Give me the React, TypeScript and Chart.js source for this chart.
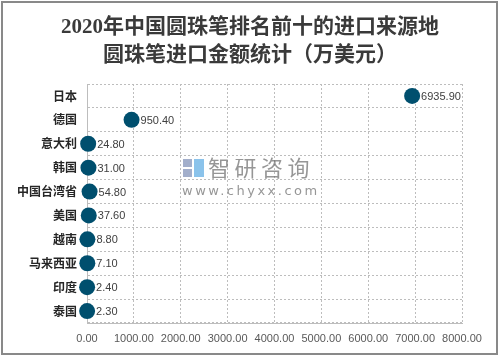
import React, { useEffect, useRef } from "react";
import { Chart, registerables } from "chart.js";

Chart.register(...registerables);

const categories = ["日本", "德国", "意大利", "韩国", "中国台湾省", "美国", "越南", "马来西亚", "印度", "泰国"];
const values = [6935.9, 950.4, 24.8, 31.0, 54.8, 37.6, 8.8, 7.1, 2.4, 2.3];
const titleLines = ["2020年中国圆珠笔排名前十的进口来源地", "圆珠笔进口金额统计（万美元）"];
const xMin = 0;
const xMax = 8000;
const xStep = 1000;

const CJK = "'Noto Sans CJK SC', sans-serif";

const overlay = {
  id: "overlay",
  beforeDraw(chart: any) {
    const ctx = chart.ctx;
    ctx.save();
    ctx.fillStyle = "#ffffff";
    ctx.fillRect(0, 0, chart.width, chart.height);
    ctx.restore();
  },
  beforeDatasetsDraw(chart: any) {
    const ctx = chart.ctx;
    ctx.save();
    ctx.fillStyle = "rgba(140,155,190,0.8)";
    ctx.fillRect(183, 159, 9, 8);
    ctx.fillRect(183, 169, 9, 8);
    ctx.fillStyle = "rgba(110,180,230,0.8)";
    ctx.fillRect(194, 159, 10, 18);
    ctx.fillStyle = "rgba(105,105,105,0.7)";
    ctx.font = `22px ${CJK}`;
    ctx.textBaseline = "middle";
    ctx.textAlign = "left";
    (ctx as any).letterSpacing = "4.5px";
    ctx.fillText("智研咨询", 208, 168);
    ctx.font = "13px 'DejaVu Sans', sans-serif";
    (ctx as any).letterSpacing = "2.5px";
    ctx.fillText("www.chyxx.com", 182, 192);
    ctx.restore();
  },
  afterDatasetsDraw(chart: any) {
    const ctx = chart.ctx;
    const meta = chart.getDatasetMeta(0);
    ctx.save();
    ctx.font = `11px 'Liberation Sans', ${CJK}`;
    ctx.fillStyle = "#404040";
    ctx.textAlign = "left";
    ctx.textBaseline = "middle";
    meta.data.forEach((pt: any, i: number) => {
      ctx.fillText(values[i].toFixed(2), pt.x + 9, pt.y + 1);
    });
    ctx.restore();
  },
  afterDraw(chart: any) {
    const ctx = chart.ctx;
    ctx.save();
    ctx.fillStyle = "#3a3a3a";
    ctx.textAlign = "center";
    ctx.textBaseline = "middle";
    ctx.font = `bold 21px 'Liberation Serif', ${CJK}`;
    ctx.fillText(titleLines[0], 250, 28);
    ctx.fillText(titleLines[1], 250, 56);
    ctx.strokeStyle = "#898989";
    ctx.lineWidth = 2;
    ctx.strokeRect(2, 2, 495, 352);
    ctx.restore();
  },
};

export default function App() {
  const ref = useRef<HTMLCanvasElement>(null);
  useEffect(() => {
    const data = categories.map((c, i) => ({ x: values[i], y: c }));
    const chart = new Chart(ref.current as HTMLCanvasElement, {
      type: "scatter",
      data: {
        labels: categories,
        datasets: [
          {
            data: data as any,
            backgroundColor: "#004f6e",
            borderColor: "#004f6e",
            pointRadius: 8,
            pointHoverRadius: 8,
            borderWidth: 0,
            clip: false,
          },
        ],
      },
      options: {
        animation: false,
        responsive: false,
        events: [],
        layout: { padding: { top: 84, right: 37, bottom: 0, left: 0 } },
        plugins: { legend: { display: false }, tooltip: { enabled: false }, title: { display: false } },
        scales: {
          x: {
            type: "linear",
            min: xMin,
            max: xMax,
            ticks: {
              stepSize: xStep,
              padding: 9,
              color: "#595959",
              font: { size: 11, family: "'Liberation Sans', sans-serif" },
              callback: (v: any) => Number(v).toFixed(2),
            },
            grid: { color: "#bdbdbd", drawTicks: false },
            border: { display: true, color: "#bdbdbd", dash: [2, 2] },
            afterFit: (s: any) => {
              s.height = 35;
            },
          },
          y: {
            type: "category",
            labels: categories,
            offset: true,
            ticks: {
              padding: 10,
              color: "#262626",
              font: { size: 12, weight: "bold", family: CJK },
            },
            grid: { offset: true, color: "#bdbdbd", drawTicks: false },
            border: { display: true, color: "#bdbdbd", dash: [2, 2] },
            afterFit: (s: any) => {
              s.width = 87;
            },
          },
        },
      } as any,
      plugins: [overlay],
    });
    return () => chart.destroy();
  }, []);
  return (
    <div style={{ position: "fixed", left: 0, top: 0, width: 499, height: 358 }}>
      <canvas ref={ref} width={499} height={358} style={{ display: "block" }} />
    </div>
  );
}
